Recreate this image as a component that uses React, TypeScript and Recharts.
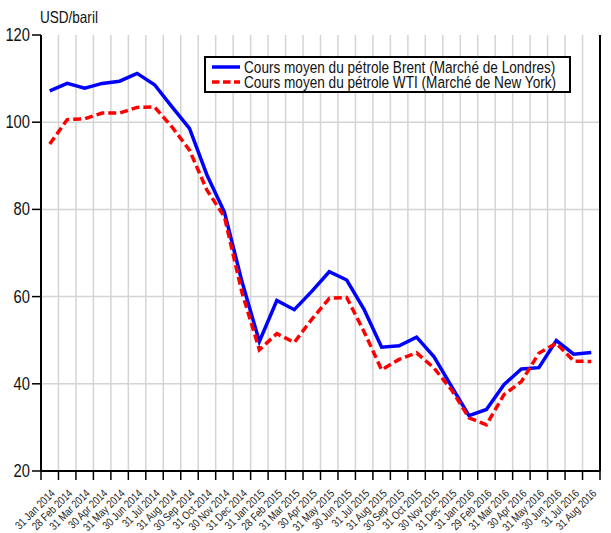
import React from "react";
import {
  LineChart,
  Line,
  XAxis,
  YAxis,
  CartesianGrid,
  ReferenceLine,
} from "recharts";

const months = [
  "31 Jan 2014", "28 Feb 2014", "31 Mar 2014", "30 Apr 2014", "31 May 2014", "30 Jun 2014",
  "31 Jul 2014", "31 Aug 2014", "30 Sep 2014", "31 Oct 2014", "30 Nov 2014", "31 Dec 2014",
  "31 Jan 2015", "28 Feb 2015", "31 Mar 2015", "30 Apr 2015", "31 May 2015", "30 Jun 2015",
  "31 Jul 2015", "31 Aug 2015", "30 Sep 2015", "31 Oct 2015", "30 Nov 2015", "31 Dec 2015",
  "31 Jan 2016", "29 Feb 2016", "31 Mar 2016", "30 Apr 2016", "31 May 2016", "30 Jun 2016",
  "31 Jul 2016", "31 Aug 2016",
];

const brent = [
  107.2, 108.9, 107.8, 108.9, 109.4, 111.2, 108.6, 103.5, 98.6, 87.9, 79.4, 63.5,
  49.7, 59.1, 57.0, 61.2, 65.7, 63.8, 57.0, 48.4, 48.7, 50.7, 46.2, 39.4,
  32.7, 34.1, 39.8, 43.4, 43.7, 49.9, 46.8, 47.2,
];

const wti = [
  95.0, 100.6, 100.8, 102.1, 102.1, 103.4, 103.5, 98.9, 93.6, 84.4, 78.3, 61.0,
  47.8, 51.5, 49.5, 54.8, 59.6, 59.8, 51.9, 43.2, 45.6, 47.1, 43.6, 38.6,
  32.2, 30.6, 37.5, 40.5, 47.0, 49.3, 45.2, 45.1,
];

const yTicks = [20, 40, 60, 80, 100, 120];

const BRENT_NAME = "Cours moyen du pétrole Brent (Marché de Londres)";
const WTI_NAME = "Cours moyen du pétrole WTI (Marché de New York)";

const FONT = "'Liberation Sans', Arial, sans-serif";
// the original uses a condensed face; squeeze the regular one horizontally
const NARROW = 0.82;

const data = months.map((m, i) => ({
  x: i + 0.5,
  month: m,
  brent: brent[i],
  wti: wti[i],
}));

const xTicks = Array.from({ length: months.length + 1 }, (_, i) => i);
const innerX = xTicks.slice(1, -1);

const BAND = (600 - 41) / months.length;

// labels sit in the middle of each month band, ticks on the band edges
function MonthTick(props: any) {
  const { x, y, payload } = props;
  const label = months[payload.value];
  if (!label) return null;
  const ax = x + BAND / 2 + 6;
  const ay = y + 12;
  return (
    <text
      x={0}
      y={0}
      transform={`translate(${ax}, ${ay}) rotate(-45) scale(${NARROW}, 1)`}
      textAnchor="end"
      fontSize={11.3}
      fontFamily={FONT}
      fill="#222"
    >
      {label}
    </text>
  );
}

function ValueTick(props: any) {
  const { x, y, payload } = props;
  return (
    <text
      x={0}
      y={0}
      dy={6}
      transform={`translate(${x}, ${y}) scale(${NARROW}, 1)`}
      textAnchor="end"
      fontSize={18}
      fontFamily={FONT}
      fill="#111"
    >
      {payload.value}
    </text>
  );
}

function LegendBox() {
  const row = (dashed: boolean, color: string, text: string) => (
    <div style={{ display: "flex", alignItems: "center", height: 14.5 }}>
      <svg width={30} height={6} style={{ marginRight: 3, flex: "none" }}>
        <line
          x1={1}
          y1={3}
          x2={29}
          y2={3}
          stroke={color}
          strokeWidth={3.5}
          strokeDasharray={dashed ? "7.5 3.5" : undefined}
        />
      </svg>
      <span
        style={{
          whiteSpace: "nowrap",
          display: "inline-block",
          transform: "scaleX(0.835)",
          transformOrigin: "left center",
        }}
      >
        {text}
      </span>
    </div>
  );
  return (
    <div
      style={{
        position: "absolute",
        left: 204,
        top: 56,
        width: 367,
        height: 37,
        border: "2px solid #000",
        background: "#fff",
        padding: "2px 0 0 5px",
        fontFamily: FONT,
        fontSize: 16.3,
        color: "#111",
        lineHeight: "14px",
        boxSizing: "border-box",
        overflow: "hidden",
      }}
    >
      {row(false, "#0000ff", BRENT_NAME)}
      {row(true, "#ff0000", WTI_NAME)}
    </div>
  );
}

export default function App() {
  return (
    <div style={{ position: "absolute", left: 0, top: 0, width: 611, height: 533, background: "#fff" }}>
      <LineChart
        width={611}
        height={533}
        data={data}
        margin={{ top: 35, right: 11, left: 0, bottom: 0 }}
      >
        <CartesianGrid
          stroke="#d4d4d4"
          strokeWidth={1.5}
          horizontalValues={[40, 60, 80, 100]}
          verticalValues={innerX}
        />
        <XAxis
          dataKey="x"
          type="number"
          domain={[0, months.length]}
          ticks={xTicks}
          interval={0}
          height={62}
          tickSize={9}
          tickLine={{ stroke: "#000", strokeWidth: 1.5 }}
          axisLine={{ stroke: "#000", strokeWidth: 2 }}
          tick={<MonthTick />}
          allowDataOverflow
        />
        <YAxis
          type="number"
          domain={[20, 120]}
          ticks={yTicks}
          width={41}
          tickSize={9}
          tickMargin={2}
          tickLine={{ stroke: "#000", strokeWidth: 1.5 }}
          axisLine={{ stroke: "#000", strokeWidth: 2 }}
          tick={<ValueTick />}
          allowDataOverflow
        />
        <ReferenceLine x={months.length} stroke="#000" strokeWidth={2} />
        <Line
          dataKey="brent"
          name={BRENT_NAME}
          stroke="#0000ff"
          strokeWidth={3.5}
          dot={false}
          isAnimationActive={false}
        />
        <Line
          dataKey="wti"
          name={WTI_NAME}
          stroke="#ff0000"
          strokeWidth={3.5}
          strokeDasharray="8 4"
          dot={false}
          isAnimationActive={false}
        />
      </LineChart>
      <div
        style={{
          position: "absolute",
          left: 40,
          top: 8,
          fontFamily: FONT,
          fontSize: 16.5,
          color: "#111",
          transform: `scaleX(${NARROW})`,
          transformOrigin: "left top",
        }}
      >
        USD/baril
      </div>
      <LegendBox />
    </div>
  );
}
